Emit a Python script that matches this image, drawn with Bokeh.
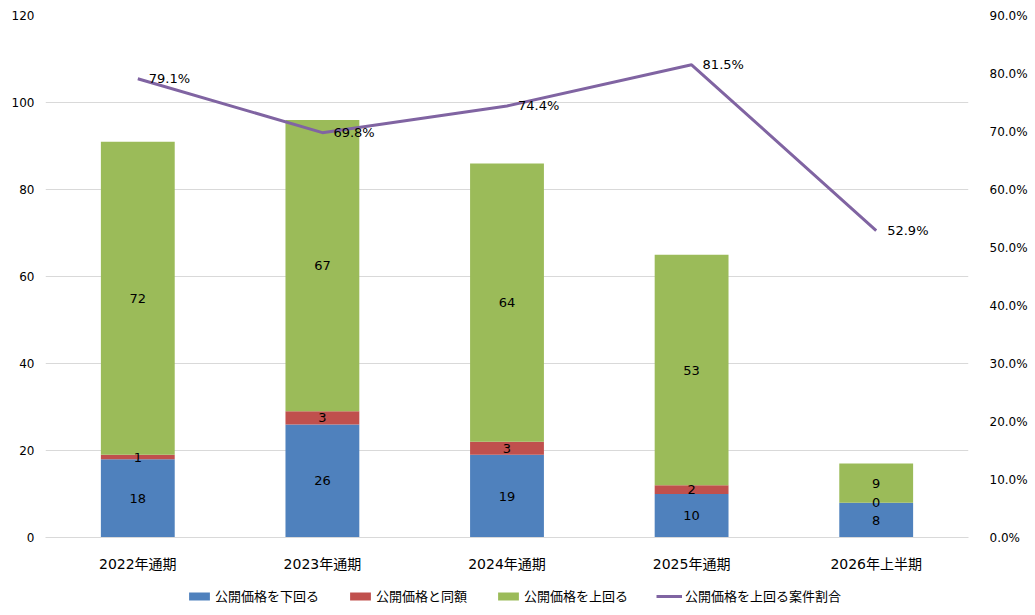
from bokeh.plotting import figure
from bokeh.layouts import column
from bokeh.models import (ColumnDataSource, Range1d, LinearAxis, NumeralTickFormatter,
                          Legend, LegendItem, FactorRange, SingleIntervalTicker)
from bokeh.core.properties import value
from bokeh.embed import file_html
from bokeh.resources import INLINE

# Periods
cats = ["2022年通期", "2023年通期", "2024年通期", "2025年通期", "2026年上半期"]

# Number of cases per period
below = [18, 26, 19, 10, 8]   # 公開価格を下回る
same = [1, 3, 3, 2, 0]        # 公開価格と同額
above = [72, 67, 64, 53, 9]   # 公開価格を上回る

# Share of cases above the offer price (%)
ratio = [79.1, 69.8, 74.4, 81.5, 52.9]

series_names = ["公開価格を下回る", "公開価格と同額", "公開価格を上回る", "公開価格を上回る案件割合"]

blue = "#4f81bd"
red = "#c0504d"
green = "#9bbb59"
purple = "#8064a2"
grid_col = "#d9d9d9"
num_font = "DejaVu Sans"
jp_font = "Noto Sans CJK JP"
mix_font = "DejaVu Sans, Noto Sans CJK JP"

src = ColumnDataSource(dict(cats=cats, below=below, same=same, above=above,
                            ratio=[r / 100 for r in ratio],
                            ratio_txt=["%.1f%%" % r for r in ratio]))

p = figure(x_range=FactorRange(*cats), y_range=Range1d(0, 120),
           width=1030, height=577, output_backend="svg", toolbar_location=None,
           min_border_left=45, min_border_right=57, min_border_top=15,
           min_border_bottom=40)
p.outline_line_color = None
p.extra_y_ranges = {"pct": Range1d(0, 0.9)}

p.vbar_stack(["below", "same", "above"], x="cats", width=0.4, source=src,
             color=[blue, red, green], line_color=None)

p.line(x="cats", y="ratio", source=src, y_range_name="pct",
       line_color=purple, line_width=3)

# segment labels at the middle of each stacked piece
lab_x, lab_y, lab_t = [], [], []
for c, a, b, d in zip(cats, below, same, above):
    base = 0
    for v in (a, b, d):
        lab_x.append(c)
        lab_y.append(base + v / 2)
        lab_t.append(str(v))
        base += v
p.text(x=lab_x, y=lab_y, text=lab_t, text_align="center", text_baseline="middle",
       text_font=value(num_font), text_font_size="13px", text_color="black")

p.text(x="cats", y="ratio", text="ratio_txt", source=src, y_range_name="pct",
       x_offset=11, text_align="left", text_baseline="middle",
       text_font=value(num_font), text_font_size="13px", text_color="black")

# axes
p.yaxis.ticker = SingleIntervalTicker(interval=20)
right = LinearAxis(y_range_name="pct", ticker=SingleIntervalTicker(interval=0.1),
                   formatter=NumeralTickFormatter(format="0.0%"))
p.add_layout(right, "right")

for ax in (p.yaxis[0], right):
    ax.axis_line_color = None
    ax.major_tick_line_color = None
    ax.minor_tick_line_color = None
    ax.major_label_text_font = num_font
    ax.major_label_text_font_size = "12px"
    ax.major_label_text_color = "black"
p.yaxis[0].major_label_standoff = 5
right.major_label_standoff = 15

p.xaxis.axis_line_color = grid_col
p.xaxis.major_tick_line_color = None
p.xaxis.minor_tick_line_color = None
p.xaxis.major_label_text_font = mix_font
p.xaxis.major_label_text_font_size = "14px"
p.xaxis.major_label_text_color = "black"
p.xaxis.major_label_standoff = 12

p.xgrid.grid_line_color = None
p.ygrid.grid_line_color = grid_col
p.ygrid.ticker = SingleIntervalTicker(interval=20)

# legend strip below the chart (its renderers sit outside the visible range)
lf = figure(width=1030, height=35, x_range=Range1d(0, 1), y_range=Range1d(0, 1),
            x_axis_type=None, y_axis_type=None, output_backend="svg",
            toolbar_location=None, min_border=0)
lf.outline_line_color = None
lf.grid.grid_line_color = None
r_items = [lf.vbar(x=[-5], top=[-5], bottom=[-6], width=0.1, color=c, line_color=None)
           for c in (blue, red, green)]
r_items.append(lf.line(x=[-6, -5], y=[-5, -5], line_color=purple, line_width=3))

legend = Legend(items=[LegendItem(label=n, renderers=[r])
                       for n, r in zip(series_names, r_items)],
                orientation="horizontal", location=(141, 7))
legend.label_text_font = jp_font
legend.label_text_font_size = "13px"
legend.label_text_color = "black"
legend.glyph_width = 26
legend.glyph_height = 10
legend.spacing = 28
legend.label_standoff = 3
legend.border_line_color = None
legend.background_fill_alpha = 0
legend.margin = 0
legend.padding = 4
lf.add_layout(legend, "center")

open("out.html", "w").write(file_html(column(p, lf), INLINE))
